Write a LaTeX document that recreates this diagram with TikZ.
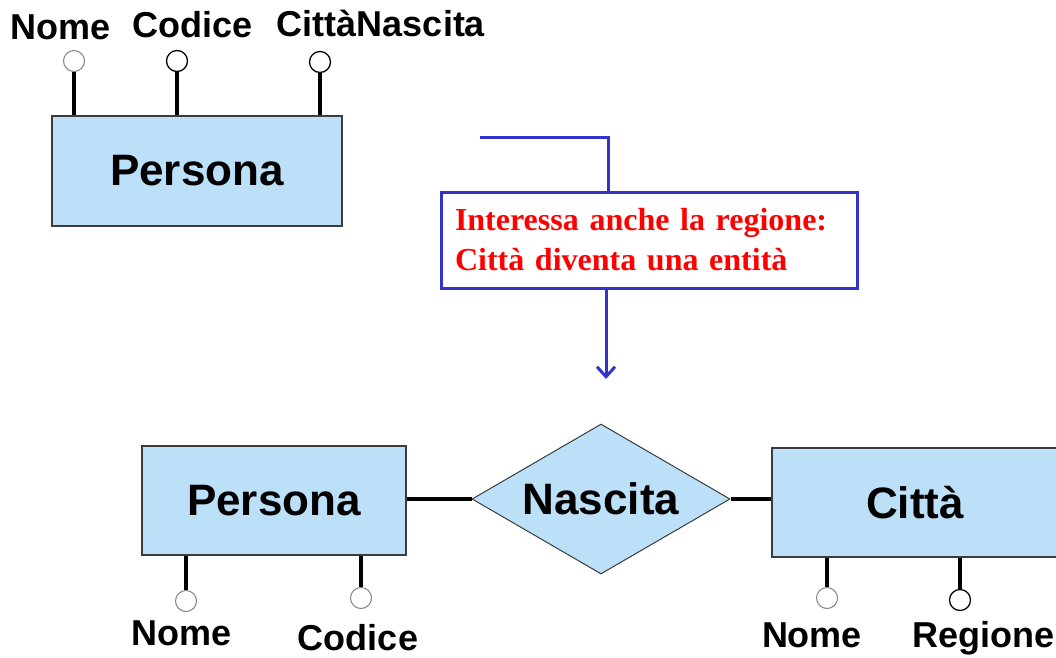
\documentclass[tikz,border=0pt]{standalone}
\usepackage{fontspec}
\setmainfont{Liberation Sans}
\newfontfamily\notefont{Liberation Serif}
\usetikzlibrary{shapes.geometric,arrows.meta}
\definecolor{entfill}{RGB}{187,224,248}
\definecolor{noteblue}{RGB}{51,51,204}
\definecolor{bordergray}{RGB}{60,60,60}
\definecolor{attrgray}{RGB}{130,130,130}
\tikzset{
  entity/.style={draw=bordergray, line width=1.3pt, fill=entfill, inner sep=0pt,
    font=\fontsize{44}{50}\selectfont\bfseries},
  relation/.style={draw=bordergray, line width=1pt, fill=entfill, diamond, inner sep=0pt,
    font=\fontsize{44}{50}\selectfont\bfseries},
  attrg/.style={circle, draw=attrgray, line width=1pt, fill=white, minimum size=21pt, inner sep=0pt},
  attrb/.style={circle, draw=black, line width=1.3pt, fill=white, minimum size=21pt, inner sep=0pt},
  attrlink/.style={line width=3.5pt, black},
  rellink/.style={line width=3.5pt, black},
  label/.style={anchor=base, inner sep=0pt, font=\fontsize{36}{40}\selectfont\bfseries},
  notebox/.style={draw=noteblue, line width=3pt, fill=white, inner ysep=0pt, inner xsep=14pt,
    minimum width=416pt, minimum height=96pt, text width=388pt, align=left,
    text=red, font=\notefont\fontsize{32}{40}\selectfont\bfseries},
  noteline/.style={draw=noteblue, line width=3pt},
}
\begin{document}
\begin{tikzpicture}[x=1pt,y=-1pt]
\useasboundingbox (0,0) rectangle (1056,657);
\clip (0,0) rectangle (1056,657);
\fill[white] (0,0) rectangle (1056,657);

% ---- top: Persona with attributes
\node[entity, minimum width=290pt, minimum height=110pt] (p1) at (197,171) {Persona};
\node[attrg] (a1) at (74,61) {};
\node[attrb] (a2) at (177,61) {};
\node[attrb] (a3) at (320,62) {};
\draw[attrlink] (a1.south) -- (a1.south |- p1.north);
\draw[attrlink] (a2.south) -- (a2.south |- p1.north);
\draw[attrlink] (a3.south) -- (a3.south |- p1.north);
\node[label] (l1) at (61,39) {Nome};
\node[label] (l2) at (193,37) {Codice};
\node[label] (l3) at (381,36) {CittàNascita};

% ---- note
\node[notebox] (note) at (649,240) {Interessa anche la regione:\\Città diventa una entità};
\coordinate (nstart) at (480,137);
\coordinate (nbend) at (608,137);
\coordinate (ntip) at (606,379);
\draw[noteline] (nstart) -- (nbend) -- (nbend |- note.north);
\draw[noteline, -{Straight Barb[length=10pt,width=18pt,line width=3pt]}] (ntip |- note.south) -- (ntip);

% ---- bottom: Persona - Nascita - Città
\node[entity, minimum width=264pt, minimum height=109pt] (p2) at (274,500.5) {Persona};
\node[relation, minimum width=258pt, minimum height=150pt, aspect=1.72] (rel) at (601,499) {Nascita};
\node[entity, minimum width=286pt, minimum height=109pt] (city) at (915,502.5) {Città};
\draw[rellink] (p2.east |- rel.west) -- (rel.west);
\draw[rellink] (rel.east) -- (rel.east -| city.west);

\node[attrg] (b1) at (186,601) {};
\node[attrg] (b2) at (361,598) {};
\draw[attrlink] (b1.north) -- (b1.north |- p2.south);
\draw[attrlink] (b2.north) -- (b2.north |- p2.south);
\node[label] (m1) at (182,645) {Nome};
\node[label] (m2) at (358,650) {Codice};

\node[attrg] (c1) at (827,598) {};
\node[attrb] (c2) at (960,600) {};
\draw[attrlink] (c1.north) -- (c1.north |- city.south);
\draw[attrlink] (c2.north) -- (c2.north |- city.south);
\node[label] (n1) at (812,647) {Nome};
\node[label] (n2) at (983,647) {Regione};
\end{tikzpicture}
\end{document}
